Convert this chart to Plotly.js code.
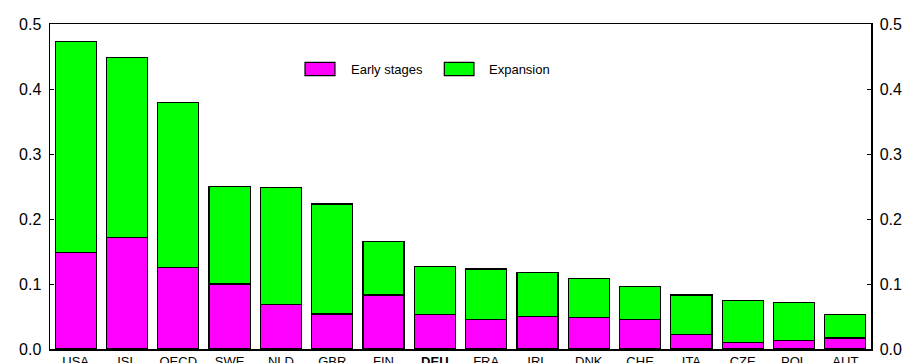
<!DOCTYPE html>
<html>
<head>
<meta charset="utf-8">
<script src="https://cdn.plot.ly/plotly-3.0.1.min.js"></script>
<style>html,body{margin:0;padding:0;background:#fff;}#chart{width:908px;height:363px;}</style>
</head>
<body>
<div id="chart"></div>
<script>
var categories = ["USA","ISL","OECD","SWE","NLD","GBR","FIN","DEU","FRA","IRL","DNK","CHE","ITA","CZE","POL","AUT"];
var tickLabels = ["USA","ISL","OECD","SWE","NLD","GBR","FIN","<b>DEU</b>","FRA","IRL","DNK","CHE","ITA","CZE","POL","AUT"];
var earlyStages = [0.149,0.171,0.125,0.100,0.068,0.054,0.083,0.053,0.046,0.050,0.049,0.045,0.022,0.010,0.013,0.017];
var expansion   = [0.324,0.277,0.254,0.150,0.180,0.169,0.082,0.074,0.077,0.068,0.060,0.051,0.061,0.065,0.059,0.036];
var totals = earlyStages.map(function(v,i){return v+expansion[i];});

var line = {color:'#000000', width:1.2};
var traces = [
  {type:'bar', name:'Early stages', x:categories, y:earlyStages, marker:{color:'#FF00FF', line:line}, width:0.8, showlegend:false, hoverinfo:'x+y'},
  {type:'bar', name:'Expansion', x:categories, y:expansion, marker:{color:'#00FF00', line:line}, width:0.8, showlegend:false, hoverinfo:'x+y'},
  {type:'scatter', mode:'none', x:categories, y:totals, yaxis:'y2', showlegend:false, hoverinfo:'skip'}
];

var font = {family:'Liberation Sans, Arial, sans-serif', color:'#000'};
var layout = {
  width:908, height:363,
  margin:{l:50, r:37, t:24, b:14},
  barmode:'stack',
  bargap:0.2,
  paper_bgcolor:'#fff', plot_bgcolor:'#fff',
  font:font,
  showlegend:false,
  xaxis:{
    tickmode:'array', tickvals:categories, ticktext:tickLabels,
    tickfont:{size:13, family:font.family, color:'#000'},
    showline:true, linecolor:'#000', linewidth:1.5, mirror:true,
    ticks:'', showgrid:false, zeroline:false, fixedrange:true
  },
  yaxis:{
    range:[0,0.5], dtick:0.1, tickformat:'.1f',
    tickfont:{size:16, family:font.family, color:'#000'},
    showline:true, linecolor:'#000', linewidth:1.5, mirror:true,
    ticks:'inside', ticklen:4, tickcolor:'#000',
    showgrid:false, zeroline:false, ticklabelstandoff:4
  },
  yaxis2:{
    range:[0,0.5], dtick:0.1, tickformat:'.1f', overlaying:'y', side:'right',
    tickfont:{size:16, family:font.family, color:'#000'},
    showline:true, linecolor:'#000', linewidth:1.5,
    ticks:'inside', ticklen:4, tickcolor:'#000',
    showgrid:false, zeroline:false, ticklabelstandoff:4
  },
  shapes:[
    {type:'rect', xref:'paper', yref:'paper', x0:0.3106, x1:0.3471, y0:0.841, y1:0.882, fillcolor:'#FF00FF', line:{color:'#000', width:1.2}},
    {type:'rect', xref:'paper', yref:'paper', x0:0.4803, x1:0.5164, y0:0.841, y1:0.882, fillcolor:'#00FF00', line:{color:'#000', width:1.2}}
  ],
  annotations:[
    {xref:'paper', yref:'paper', x:0.3642, y:0.8615, xanchor:'left', yanchor:'middle', text:'Early stages', showarrow:false, font:{size:13, family:font.family, color:'#000'}},
    {xref:'paper', yref:'paper', x:0.5319, y:0.8615, xanchor:'left', yanchor:'middle', text:'Expansion', showarrow:false, font:{size:13, family:font.family, color:'#000'}}
  ]
};
Plotly.newPlot('chart', traces, layout, {displayModeBar:false, staticPlot:true});
</script>
</body>
</html>
